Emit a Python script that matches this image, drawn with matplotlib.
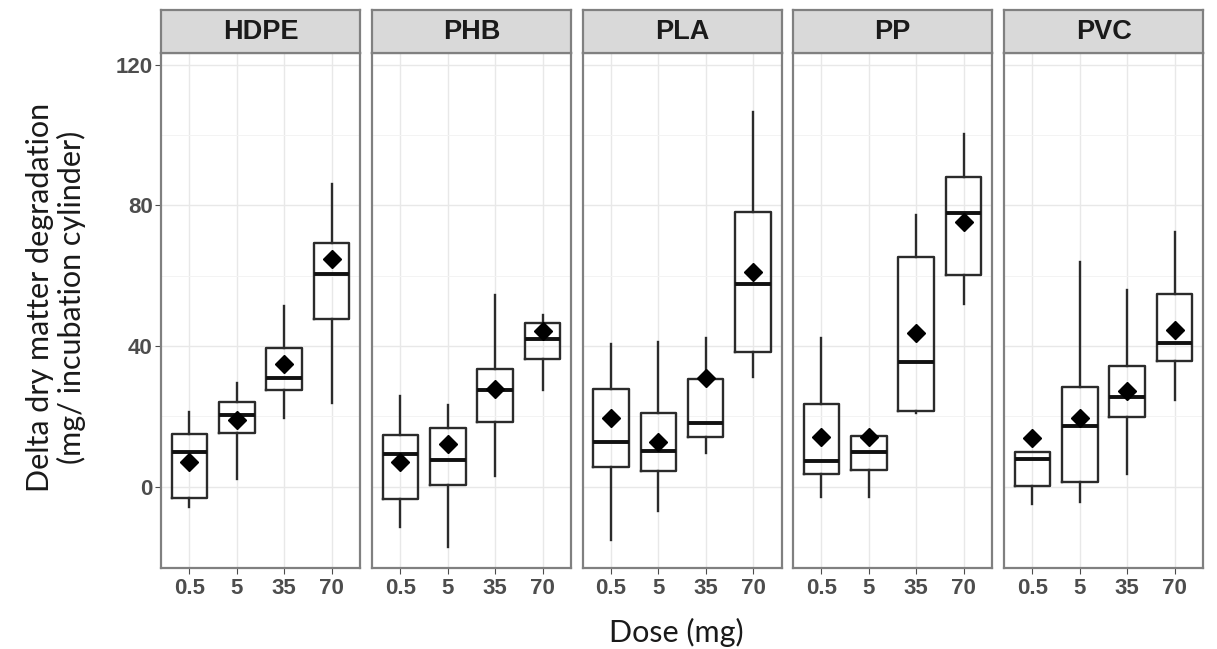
import matplotlib.pyplot as plt

plt.rcParams["font.family"] = ["Liberation Sans", "DejaVu Sans"]

polymers = ["HDPE", "PHB", "PLA", "PP", "PVC"]
doses = ["0.5", "5", "35", "70"]

# one row per polymer, one value per dose (0.5, 5, 35, 70 mg)
whisker_low = [[-5.9, 2.2, 19.4, 23.9],
               [-11.4, -17.1, 3.0, 27.5],
               [-15.0, -6.8, 9.7, 31.1],
               [-2.8, -3.0, 21.0, 51.9],
               [-4.9, -4.3, 3.6, 24.7]]
q1 = [[-3.3, 15.2, 27.5, 47.7],
      [-3.5, 0.5, 18.5, 36.2],
      [5.5, 4.5, 14.2, 38.2],
      [3.6, 4.7, 21.6, 60.1],
      [0.3, 1.4, 19.7, 35.7]]
median = [[10.0, 20.4, 31.0, 60.4],
          [9.3, 7.6, 27.5, 41.9],
          [12.8, 10.2, 18.2, 57.6],
          [7.2, 10.0, 35.5, 77.7],
          [7.8, 17.3, 25.4, 40.8]]
q3 = [[14.9, 24.2, 39.3, 69.4],
      [14.7, 16.6, 33.4, 46.6],
      [27.7, 20.9, 30.6, 78.1],
      [23.5, 14.4, 65.4, 88.0],
      [10.0, 28.4, 34.3, 54.7]]
whisker_high = [[21.3, 29.6, 51.4, 86.0],
                [25.9, 23.2, 54.5, 48.8],
                [40.5, 41.2, 42.2, 106.6],
                [42.2, 14.4, 77.3, 100.3],
                [10.0, 64.0, 55.9, 72.5]]
mean = [[7.1, 19.0, 34.9, 64.7],
        [7.1, 12.1, 27.7, 44.4],
        [19.4, 12.8, 30.8, 61.1],
        [14.2, 14.2, 43.6, 75.4],
        [13.8, 19.4, 27.3, 44.6]]

W, H = 1217, 649
fig = plt.figure(figsize=(W / 100, H / 100), dpi=100)

panel_left = [161, 372, 582.5, 793, 1004]
panel_w = 199
panel_top, panel_bot = 53, 568
strip_top = 10

edge = "#2b2b2b"
border = "#808080"
tick_col = "#4d4d4d"

for i, name in enumerate(polymers):
    ax = fig.add_axes([panel_left[i] / W, 1 - panel_bot / H, panel_w / W, (panel_bot - panel_top) / H])
    stats = []
    for j, d in enumerate(doses):
        stats.append(dict(whislo=whisker_low[i][j], q1=q1[i][j], med=median[i][j],
                          q3=q3[i][j], whishi=whisker_high[i][j], mean=mean[i][j], label=d))
    ax.bxp(stats, positions=[1, 2, 3, 4], widths=0.75, showcaps=False, showfliers=False,
           showmeans=True,
           boxprops=dict(color=edge, linewidth=1.7),
           whiskerprops=dict(color=edge, linewidth=1.7),
           medianprops=dict(color="#111111", linewidth=2.8),
           meanprops=dict(marker="D", markerfacecolor="black", markeredgecolor="black",
                          markersize=9.5))
    ax.set_xlim(0.4, 4.6)
    ax.set_ylim(-23.1, 123.3)
    ax.set_yticks([0, 40, 80, 120])
    ax.set_yticks([20, 60, 100], minor=True)
    ax.set_axisbelow(True)
    ax.grid(which="major", color="#e8e8e8", linewidth=1.0)
    ax.grid(which="minor", axis="y", color="#f3f3f3", linewidth=0.7)
    ax.tick_params(which="minor", length=0)
    ax.tick_params(axis="x", length=4, color=tick_col, labelsize=16, labelcolor=tick_col, pad=3)
    for lab in ax.get_xticklabels():
        lab.set_fontweight("bold")
    if i == 0:
        ax.tick_params(axis="y", length=4, color=tick_col, labelsize=16, labelcolor=tick_col, pad=2)
        for lab in ax.get_yticklabels():
            lab.set_fontweight("bold")
    else:
        ax.tick_params(axis="y", length=0, labelleft=False)
    for sp in ax.spines.values():
        sp.set_color(border)
        sp.set_linewidth(1.6)

    sax = fig.add_axes([panel_left[i] / W, 1 - panel_top / H, panel_w / W, (panel_top - strip_top) / H])
    sax.set_facecolor("#d9d9d9")
    sax.set_xticks([])
    sax.set_yticks([])
    for sp in sax.spines.values():
        sp.set_color(border)
        sp.set_linewidth(1.6)
    sax.text(0.5, 0.48, name, ha="center", va="center", fontsize=19.5, fontweight="bold",
             color="#1a1a1a", transform=sax.transAxes)

fig.text(676 / W, 1 - 632 / H, "Dose (mg)", ha="center", va="center", fontsize=22,
         family="Lato", color="#1a1a1a")
fig.text(56 / W, 1 - 297 / H, "Delta dry matter degradation\n(mg/ incubation cylinder)",
         ha="center", va="center", rotation=90, fontsize=22, family="Lato",
         color="#1a1a1a", linespacing=1.1)

fig.savefig("out.png", dpi=100, facecolor="white")
